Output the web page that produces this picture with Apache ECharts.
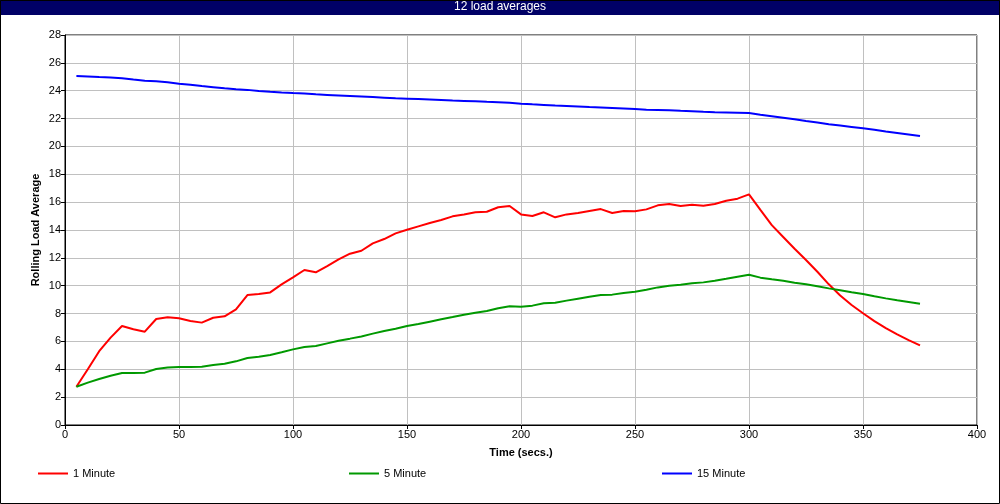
<!DOCTYPE html>
<html>
<head>
<meta charset="utf-8">
<script src="https://cdn.jsdelivr.net/npm/echarts@6/dist/echarts.min.js"></script>
<style>html,body{margin:0;padding:0;background:#fff}#c{width:1000px;height:504px}</style>
</head>
<body>
<div id="c"></div>
<script>
const times = [5,10,15,20,25,30,35,40,45,50,55,60,65,70,75,80,85,90,95,100,105,110,115,120,125,130,135,140,145,150,155,160,165,170,175,180,185,190,195,200,205,210,215,220,225,230,235,240,245,250,255,260,265,270,275,280,285,290,295,300,305,310,315,320,325,330,335,340,345,350,355,360,365,370,375];
const oneMinute = [2.75,4.0,5.3,6.27,7.11,6.87,6.7,7.61,7.73,7.66,7.47,7.35,7.7,7.8,8.3,9.33,9.4,9.52,10.1,10.6,11.13,10.96,11.41,11.89,12.3,12.51,13.04,13.35,13.76,14.02,14.26,14.5,14.72,14.98,15.12,15.27,15.31,15.63,15.72,15.12,15.0,15.27,14.91,15.12,15.22,15.36,15.5,15.22,15.36,15.34,15.48,15.77,15.87,15.72,15.82,15.74,15.87,16.1,16.25,16.56,15.45,14.35,13.5,12.65,11.85,11.0,10.1,9.3,8.62,8.02,7.46,6.95,6.5,6.1,5.72];
const fiveMinute = [2.75,3.04,3.3,3.54,3.73,3.73,3.76,4.02,4.12,4.16,4.16,4.19,4.31,4.4,4.57,4.81,4.9,5.03,5.22,5.43,5.6,5.67,5.86,6.05,6.2,6.36,6.56,6.75,6.91,7.11,7.25,7.42,7.59,7.75,7.92,8.06,8.18,8.38,8.52,8.49,8.57,8.74,8.78,8.93,9.07,9.21,9.33,9.36,9.48,9.57,9.71,9.88,10.0,10.07,10.17,10.24,10.36,10.5,10.65,10.79,10.58,10.46,10.36,10.22,10.1,9.96,9.81,9.67,9.53,9.4,9.24,9.09,8.95,8.83,8.71];
const fifteenMinute = [25.05,25.02,24.98,24.95,24.9,24.8,24.72,24.68,24.6,24.5,24.42,24.33,24.25,24.17,24.1,24.06,23.98,23.92,23.87,23.83,23.8,23.74,23.7,23.66,23.62,23.58,23.54,23.5,23.46,23.43,23.4,23.37,23.34,23.3,23.27,23.24,23.2,23.17,23.13,23.07,23.02,22.98,22.93,22.9,22.87,22.83,22.8,22.76,22.72,22.68,22.64,22.62,22.6,22.56,22.53,22.49,22.46,22.44,22.42,22.4,22.28,22.17,22.06,21.95,21.83,21.72,21.6,21.5,21.4,21.3,21.2,21.08,20.97,20.86,20.75];
const seriesNames = ['1 Minute','5 Minute','15 Minute'];
const titleText = '12 load averages';
const xAxisName = 'Time (secs.)';
const yAxisName = 'Rolling Load Average';

const FONT = 'Liberation Sans';
const pair = (arr) => times.map((t, i) => [t, arr[i]]);
const chart = echarts.init(document.getElementById('c'), null, {renderer: 'canvas'});
const mkSeries = (name, data, color) => ({
  name, type: 'line', data: pair(data), symbol: 'none', smooth: false,
  lineStyle: {color, width: 2}, itemStyle: {color}, animation: false
});
const mkLegend = (name, left) => ({
  data: [name], left, top: 468, icon: 'rect', itemWidth: 30, itemHeight: 2, itemGap: 5, padding: 0,
  textStyle: {fontFamily: FONT, fontSize: 11, color: '#000'}, selectedMode: false
});
chart.setOption({
  animation: false,
  backgroundColor: '#fff',
  graphic: [
    {type: 'rect', shape: {x: 0, y: 0, width: 1000, height: 15}, style: {fill: '#000066'}, z: 10},
    {type: 'text', left: 'center', top: 1, style: {text: titleText, fill: '#fff', font: '12px ' + FONT}, z: 11},
    {type: 'rect', shape: {x: 0.5, y: 0.5, width: 999, height: 503}, style: {fill: 'none', stroke: '#000', lineWidth: 1}, z: 12}
  ],
  grid: {left: 65, right: 23, top: 35, bottom: 79, show: true, borderColor: '#000', borderWidth: 1},
  xAxis: {
    type: 'value', min: 0, max: 400, interval: 50,
    name: xAxisName, nameLocation: 'middle', nameGap: 22, nameMoveOverlap: false,
    nameTextStyle: {fontFamily: FONT, fontSize: 11, fontWeight: 'bold', color: '#000'},
    axisLine: {lineStyle: {color: '#000'}},
    axisTick: {show: true, length: 4, lineStyle: {color: '#000'}},
    axisLabel: {fontFamily: FONT, fontSize: 11, color: '#000', margin: 4},
    splitLine: {show: true, lineStyle: {color: '#c0c0c0', width: 1}}
  },
  yAxis: {
    type: 'value', min: 0, max: 28, interval: 2,
    name: yAxisName, nameLocation: 'middle', nameGap: 24, nameRotate: 90, nameMoveOverlap: false,
    nameTextStyle: {fontFamily: FONT, fontSize: 11, fontWeight: 'bold', color: '#000'},
    axisLine: {show: true, lineStyle: {color: '#000'}},
    axisTick: {show: true, length: 4, lineStyle: {color: '#000'}},
    axisLabel: {fontFamily: FONT, fontSize: 11, color: '#000', margin: 4},
    splitLine: {show: true, lineStyle: {color: '#c0c0c0', width: 1}}
  },
  legend: [mkLegend(seriesNames[0], 38), mkLegend(seriesNames[1], 349), mkLegend(seriesNames[2], 662)],
  series: [
    mkSeries(seriesNames[0], oneMinute, '#ff0000'),
    mkSeries(seriesNames[1], fiveMinute, '#009900'),
    mkSeries(seriesNames[2], fifteenMinute, '#0000ff')
  ]
});
</script>
</body>
</html>
